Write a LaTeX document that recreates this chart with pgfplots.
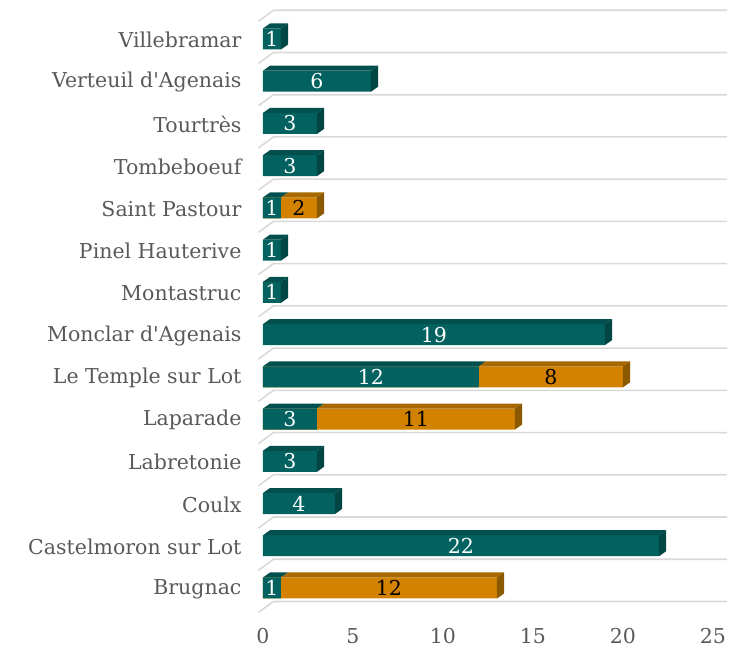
\documentclass[border=0pt]{standalone}
\usepackage{pgfplots}
\pgfplotsset{compat=1.18}
\usepackage{pgfplotstable}
\usepackage{fontspec}
\setmainfont{DejaVu Serif}
\definecolor{tF}{HTML}{036260}
\definecolor{tT}{HTML}{02504E}
\definecolor{tS}{HTML}{024644}
\definecolor{oF}{HTML}{D38200}
\definecolor{oT}{HTML}{A86800}
\definecolor{oS}{HTML}{8B5A00}
\definecolor{gridc}{HTML}{D9D9D9}
\definecolor{labc}{HTML}{595959}
\newcommand\lblfont{\fontsize{20.5}{24}\selectfont}

\pgfplotstableread{
y a
0 1
1 22
2 4
3 3
4 3
5 12
6 19
7 1
8 1
9 1
10 3
11 3
12 6
13 1
}\tealdata

\pgfplotstableread{
y t
0 13
4 14
5 20
9 3
}\orangetotal

\pgfplotstableread{
x y l
0.5 0 1
11 1 22
2 2 4
1.5 3 3
1.5 4 3
6 5 12
9.5 6 19
0.5 7 1
0.5 8 1
0.5 9 1
1.5 10 3
1.5 11 3
3 12 6
0.5 13 1
}\teallabels

\pgfplotstableread{
x y l
7 0 12
8.5 4 11
16 5 8
2 9 2
}\orangelabels

\begin{document}
\begin{tikzpicture}
\begin{axis}[
  at={(263pt,22.8pt)}, anchor=south west,
  scale only axis, width=450pt, height=633.45pt,
  xmin=0, xmax=25, ymin=-1, ymax=14,
  clip=false,
  axis line style={draw=none},
  major tick length=0pt,
  xtick={0,5,...,25},
  ytick={0,...,13},
  yticklabels={Brugnac,Castelmoron sur Lot,Coulx,Labretonie,Laparade,Le Temple sur Lot,Monclar d\textquotesingle Agenais,Montastruc,Pinel Hauterive,Saint Pastour,Tombeboeuf,Tourtrès,Verteuil d\textquotesingle Agenais,Villebramar},
  /pgf/number format/assume math mode=true,
  tick label style={font=\lblfont, text=labc},
  yticklabel style={anchor=east, xshift=-18pt, yshift=-1pt},
  xticklabel style={yshift=5pt},
]
% gridlines
\addplot[gridc, line width=1.6pt] coordinates {(-0.25,-0.58) (0.58,-0.32) (25.78,-0.32)};
\addplot[gridc, line width=1.6pt] coordinates {(-0.25,0.42) (0.58,0.68) (25.78,0.68)};
\addplot[gridc, line width=1.6pt] coordinates {(-0.25,1.42) (0.58,1.68) (25.78,1.68)};
\addplot[gridc, line width=1.6pt] coordinates {(-0.25,2.42) (0.58,2.68) (25.78,2.68)};
\addplot[gridc, line width=1.6pt] coordinates {(-0.25,3.42) (0.58,3.68) (25.78,3.68)};
\addplot[gridc, line width=1.6pt] coordinates {(-0.25,4.42) (0.58,4.68) (25.78,4.68)};
\addplot[gridc, line width=1.6pt] coordinates {(-0.25,5.42) (0.58,5.68) (25.78,5.68)};
\addplot[gridc, line width=1.6pt] coordinates {(-0.25,6.42) (0.58,6.68) (25.78,6.68)};
\addplot[gridc, line width=1.6pt] coordinates {(-0.25,7.42) (0.58,7.68) (25.78,7.68)};
\addplot[gridc, line width=1.6pt] coordinates {(-0.25,8.42) (0.58,8.68) (25.78,8.68)};
\addplot[gridc, line width=1.6pt] coordinates {(-0.25,9.42) (0.58,9.68) (25.78,9.68)};
\addplot[gridc, line width=1.6pt] coordinates {(-0.25,10.42) (0.58,10.68) (25.78,10.68)};
\addplot[gridc, line width=1.6pt] coordinates {(-0.25,11.42) (0.58,11.68) (25.78,11.68)};
\addplot[gridc, line width=1.6pt] coordinates {(-0.25,12.42) (0.58,12.68) (25.78,12.68)};
\addplot[gridc, line width=1.6pt] coordinates {(-0.25,13.42) (0.58,13.68) (25.78,13.68)};
% front faces
\addplot[xbar, bar width=21pt, bar shift=0pt, fill=oF, draw=none] table[x=t, y=y] {\orangetotal};
\addplot[xbar, bar width=21pt, bar shift=0pt, fill=tF, draw=none] table[x=a, y=y] {\tealdata};
% teal top faces
\addplot[fill=tT, draw=none] coordinates {(0,0.249) (1,0.249) (1.389,0.367) (0.389,0.367)};
\addplot[fill=tT, draw=none] coordinates {(0,1.249) (22,1.249) (22.389,1.367) (0.389,1.367)};
\addplot[fill=tT, draw=none] coordinates {(0,2.249) (4,2.249) (4.389,2.367) (0.389,2.367)};
\addplot[fill=tT, draw=none] coordinates {(0,3.249) (3,3.249) (3.389,3.367) (0.389,3.367)};
\addplot[fill=tT, draw=none] coordinates {(0,4.249) (3,4.249) (3.389,4.367) (0.389,4.367)};
\addplot[fill=tT, draw=none] coordinates {(0,5.249) (12,5.249) (12.389,5.367) (0.389,5.367)};
\addplot[fill=tT, draw=none] coordinates {(0,6.249) (19,6.249) (19.389,6.367) (0.389,6.367)};
\addplot[fill=tT, draw=none] coordinates {(0,7.249) (1,7.249) (1.389,7.367) (0.389,7.367)};
\addplot[fill=tT, draw=none] coordinates {(0,8.249) (1,8.249) (1.389,8.367) (0.389,8.367)};
\addplot[fill=tT, draw=none] coordinates {(0,9.249) (1,9.249) (1.389,9.367) (0.389,9.367)};
\addplot[fill=tT, draw=none] coordinates {(0,10.249) (3,10.249) (3.389,10.367) (0.389,10.367)};
\addplot[fill=tT, draw=none] coordinates {(0,11.249) (3,11.249) (3.389,11.367) (0.389,11.367)};
\addplot[fill=tT, draw=none] coordinates {(0,12.249) (6,12.249) (6.389,12.367) (0.389,12.367)};
\addplot[fill=tT, draw=none] coordinates {(0,13.249) (1,13.249) (1.389,13.367) (0.389,13.367)};
% orange top faces
\addplot[fill=oT, draw=none] coordinates {(1,0.249) (13,0.249) (13.389,0.367) (1.389,0.367)};
\addplot[fill=oT, draw=none] coordinates {(3,4.249) (14,4.249) (14.389,4.367) (3.389,4.367)};
\addplot[fill=oT, draw=none] coordinates {(12,5.249) (20,5.249) (20.389,5.367) (12.389,5.367)};
\addplot[fill=oT, draw=none] coordinates {(1,9.249) (3,9.249) (3.389,9.367) (1.389,9.367)};
% teal side faces
\addplot[fill=tS, draw=none] coordinates {(22,0.751) (22.389,0.869) (22.389,1.367) (22,1.249)};
\addplot[fill=tS, draw=none] coordinates {(4,1.751) (4.389,1.869) (4.389,2.367) (4,2.249)};
\addplot[fill=tS, draw=none] coordinates {(3,2.751) (3.389,2.869) (3.389,3.367) (3,3.249)};
\addplot[fill=tS, draw=none] coordinates {(19,5.751) (19.389,5.869) (19.389,6.367) (19,6.249)};
\addplot[fill=tS, draw=none] coordinates {(1,6.751) (1.389,6.869) (1.389,7.367) (1,7.249)};
\addplot[fill=tS, draw=none] coordinates {(1,7.751) (1.389,7.869) (1.389,8.367) (1,8.249)};
\addplot[fill=tS, draw=none] coordinates {(3,9.751) (3.389,9.869) (3.389,10.367) (3,10.249)};
\addplot[fill=tS, draw=none] coordinates {(3,10.751) (3.389,10.869) (3.389,11.367) (3,11.249)};
\addplot[fill=tS, draw=none] coordinates {(6,11.751) (6.389,11.869) (6.389,12.367) (6,12.249)};
\addplot[fill=tS, draw=none] coordinates {(1,12.751) (1.389,12.869) (1.389,13.367) (1,13.249)};
% orange side faces
\addplot[fill=oS, draw=none] coordinates {(13,-0.249) (13.389,-0.131) (13.389,0.367) (13,0.249)};
\addplot[fill=oS, draw=none] coordinates {(14,3.751) (14.389,3.869) (14.389,4.367) (14,4.249)};
\addplot[fill=oS, draw=none] coordinates {(20,4.751) (20.389,4.869) (20.389,5.367) (20,5.249)};
\addplot[fill=oS, draw=none] coordinates {(3,8.751) (3.389,8.869) (3.389,9.367) (3,9.249)};
% labels
\addplot[draw=none, mark=none, nodes near coords, point meta=explicit symbolic,
  nodes near coords style={anchor=center, font=\lblfont, text=white}]
  table[x=x, y=y, meta=l] {\teallabels};
\addplot[draw=none, mark=none, nodes near coords, point meta=explicit symbolic,
  nodes near coords style={anchor=center, font=\lblfont, text=black}]
  table[x=x, y=y, meta=l] {\orangelabels};
\end{axis}
\pgfresetboundingbox
\path (0,0) rectangle (729pt,653pt);
\end{tikzpicture}
\end{document}
